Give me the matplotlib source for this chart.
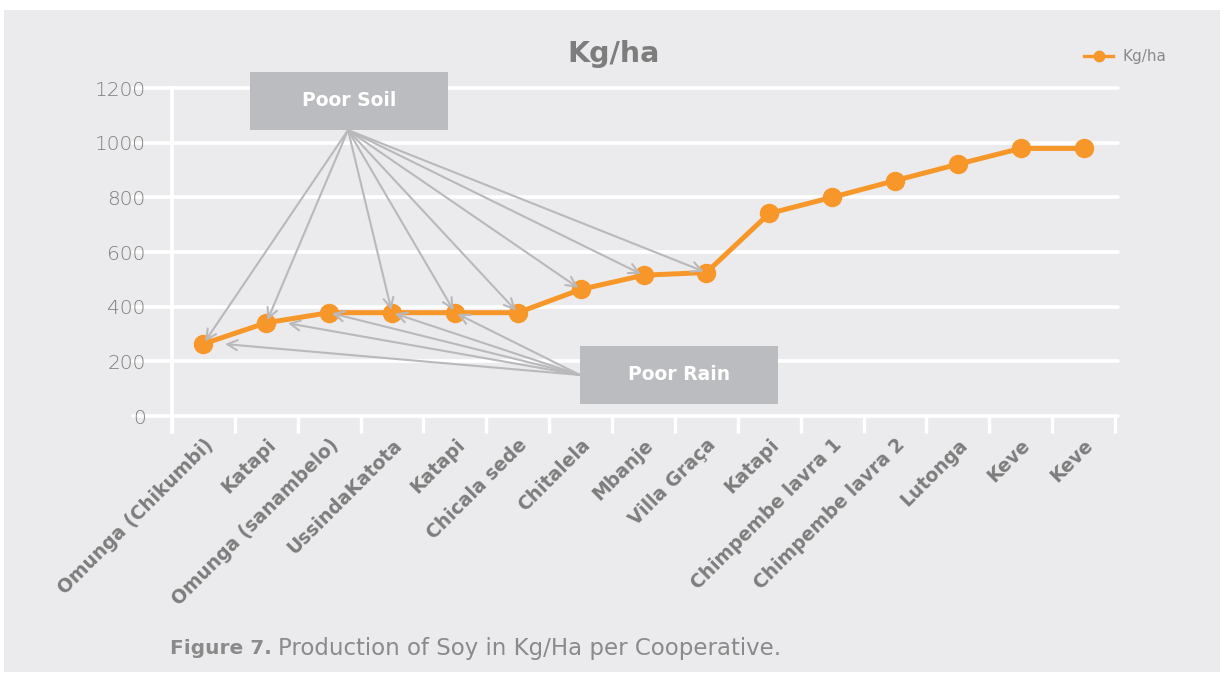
import matplotlib.pyplot as plt
import numpy as np
from matplotlib.patches import Rectangle
from matplotlib.lines import Line2D

# data
cooperatives = ["Omunga (Chikumbi)", "Katapi", "Omunga (sanambelo)",
                "UssindaKatota", "Katapi", "Chicala sede", "Chitalela",
                "Mbanje", "Villa Graça", "Katapi", "Chimpembe lavra 1",
                "Chimpembe lavra 2", "Lutonga", "Keve", "Keve"]
kg_per_ha = [264, 341, 378, 378, 378, 378, 463, 515, 525,
             741, 800, 861, 921, 979, 979]
y_ticks = [0, 200, 400, 600, 800, 1000, 1200]

# which points each call-out box points at
poor_soil = [0, 1, 3, 4, 5, 6, 7, 8]
poor_rain = [0, 1, 2, 3, 4]
rain_dx = [0.3, 0.3, 0, 0, 0]

orange = '#f7972a'
grey_txt = '#7d7d7d'
box_col = '#bbbcbf'
arrow_col = '#b9b9bb'
panel = '#ebebed'

plt.rcParams['font.family'] = ['DejaVu Sans']

W, H = 1220, 684
fig = plt.figure(figsize=(W / 100, H / 100), dpi=100)
fig.patch.set_facecolor('white')
bg = Rectangle((4 / W, 12 / H), 1 - 4 / W, 662 / H,
               transform=fig.transFigure, facecolor=panel,
               edgecolor='none', zorder=-10)
fig.add_artist(bg)

ax = fig.add_axes([172 / W, 268 / H, 943 / W, 328 / H])
ax.set_facecolor('none')
for s in ax.spines.values():
    s.set_visible(False)

x = np.arange(len(cooperatives))
ax.set_xlim(-0.5, len(cooperatives) - 0.5)
ax.set_ylim(0, 1200)

# white gridlines running a bit left of the axis
for yv in y_ticks:
    ax.axhline(yv, xmin=-0.041, xmax=1.003, color='white', lw=2.6,
               solid_capstyle='round', clip_on=False, zorder=1)
ax.axvline(-0.5, ymin=-0.049, ymax=1, color='white', lw=2.6,
           clip_on=False, zorder=1)

ax.set_yticks(y_ticks)
ax.set_yticklabels([str(v) for v in y_ticks])
ax.tick_params(axis='y', length=0, pad=19, labelsize=14.5,
               labelcolor=grey_txt)
for lab in ax.get_yticklabels():
    lab.set_fontweight('light')

ax.set_xticks(x)
ax.set_xticklabels(cooperatives, rotation=45, ha='right',
                   rotation_mode='anchor', fontsize=13.5,
                   fontweight='bold', color=grey_txt)
ax.tick_params(axis='x', which='major', length=0, pad=14)
ax.set_xticks(np.arange(-0.5, len(cooperatives)), minor=True)
ax.tick_params(axis='x', which='minor', length=12, width=2.4,
               color='white')

ax.plot(x, kg_per_ha, color=orange, lw=3.6, marker='o', markersize=13,
        zorder=3, clip_on=False)

# call-out boxes
soil_box = (0.74, 1046, 3.15, 213)
rain_box = (5.99, 44, 3.15, 212)
for (bx, by, bw, bh), txt in [(soil_box, 'Poor Soil'),
                              (rain_box, 'Poor Rain')]:
    ax.add_patch(Rectangle((bx, by), bw, bh, facecolor=box_col,
                           edgecolor='none', clip_on=False, zorder=5))
    ax.text(bx + bw / 2, by + bh / 2, txt, ha='center', va='center',
            color='white', fontsize=13.5, fontweight='bold', zorder=6)

aprops = dict(arrowstyle='->', color=arrow_col, lw=1.5, shrinkA=0,
              shrinkB=2, mutation_scale=18)
for i in poor_soil:
    ax.annotate('', xy=(x[i], kg_per_ha[i]), xytext=(2.3, 1046),
                arrowprops=aprops, annotation_clip=False, zorder=4)
for i, dx in zip(poor_rain, rain_dx):
    ax.annotate('', xy=(x[i] + dx, kg_per_ha[i]), xytext=(5.99, 150),
                arrowprops=aprops, annotation_clip=False, zorder=4)

fig.text(614 / W, 1 - 54 / H, 'Kg/ha', ha='center', va='center',
         fontsize=20.5, fontweight='bold', color=grey_txt)

handle = Line2D([], [], color=orange, lw=2.4, marker='o', markersize=7.5)
ax.legend([handle], ['Kg/ha'], loc='center left',
          bbox_to_anchor=(1084 / W, 1 - 57 / H),
          bbox_transform=fig.transFigure, frameon=False, fontsize=11,
          handlelength=1.9, borderpad=0, borderaxespad=0,
          handletextpad=0.6, labelcolor='#8a8a8a')

# caption with bold lead-in
cap1 = fig.text(170 / W, 1 - 648 / H, 'Figure 7.', ha='left', va='center',
                fontsize=14.5, fontweight='bold', color='#8a8a8a')
fig.canvas.draw()
bb = cap1.get_window_extent()
fig.text((bb.x1 + 6) / W, 1 - 648 / H,
         'Production of Soy in Kg/Ha per Cooperative.', ha='left',
         va='center', fontsize=16.5, color='#8a8a8a')

fig.savefig('out.png', dpi=100, facecolor='white')
